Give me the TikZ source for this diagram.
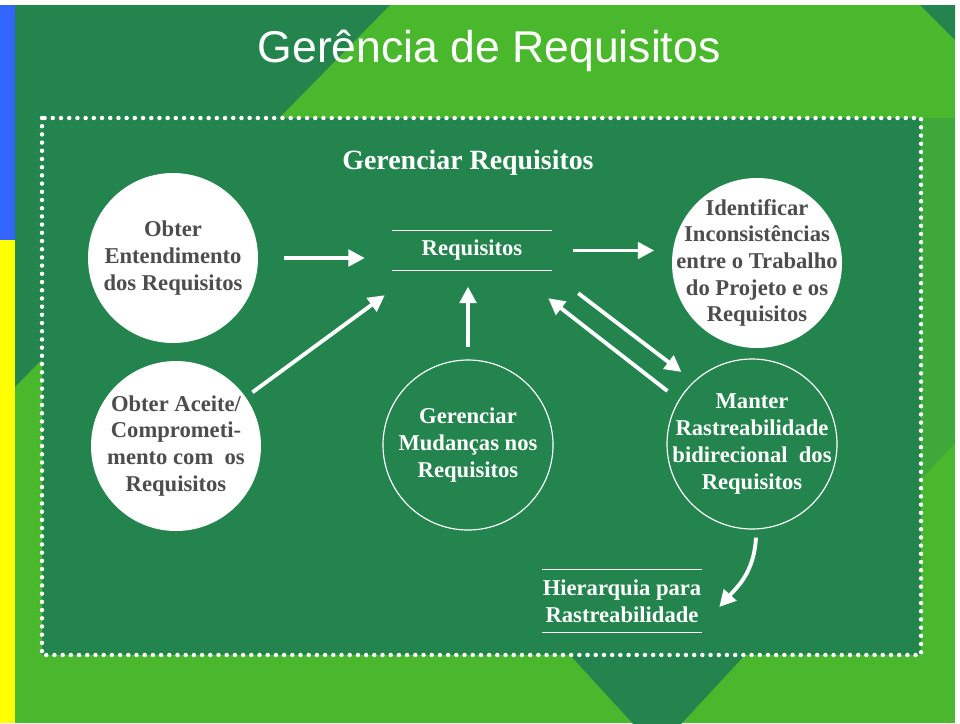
\documentclass[tikz,border=0pt]{standalone}
\usepackage{fontspec}
\setmainfont{Liberation Serif}
\setsansfont{Liberation Sans}
\usetikzlibrary{arrows.meta,positioning}

\definecolor{verdeesc}{HTML}{24844E}
\definecolor{verdecla}{HTML}{4AB82C}
\definecolor{verdemed}{HTML}{3FA83A}
\definecolor{azul}{HTML}{3366FF}
\definecolor{amarelo}{HTML}{FFFF00}
\definecolor{cinza}{HTML}{4D4D4D}

\tikzset{
  seta/.style={draw=white, line width=3.3pt, -{Triangle[length=14pt,width=14pt]}},
  bola/.style={circle, minimum size=5.1cm, inner sep=0pt},
  cheia/.style={bola, fill=white},
  vazia/.style={bola, draw=white, line width=1pt},
  texto/.style={align=center, inner sep=0pt, font=\bfseries\fontsize{19.3}{23}\selectfont},
  faixa/.style={minimum width=4.8cm, inner sep=0pt, text=white, texto},
  traco/.style={draw=white, line width=1.2pt},
  pontilhado/.style={draw=white, line width=3.8pt, line cap=round, dash pattern=on 0pt off 7pt},
}

\begin{document}
\begin{tikzpicture}[x=0.03cm, y=-0.03cm]
  \useasboundingbox (0,0) rectangle (960,723);
  \clip (0,0) rectangle (960,723);

  % fundo
  \fill[white] (0,0) rectangle (960,723);
  \fill[verdecla] (15,5) rectangle (955,723);
  \fill[verdeesc] (15,5) -- (390,5) -- (15,387) -- cycle;
  \fill[verdeesc] (920,5) -- (955,5) -- (955,40) -- cycle;
  \fill[verdemed] (922,118) -- (955,118) -- (955,443) -- (922,478) -- cycle;
  \fill[verdeesc] (570,655) -- (745,655) -- (657,750) -- cycle;
  \fill[azul] (0,5) rectangle (15,240);
  \fill[amarelo] (0,240) rectangle (15,723);

  \node[anchor=base, text=white, font=\sffamily\fontsize{38}{42}\selectfont] (titulo) at (489,62) {Gerência de Requisitos};

  % quadro
  \draw[pontilhado, fill=verdeesc] (42,118) rectangle (921,655);

  \node[anchor=base, text=white, font=\bfseries\fontsize{23.8}{28}\selectfont] (gerenciar) at (468,169) {Gerenciar Requisitos};

  % processos
  \node[cheia, label={[texto, text=cinza]center:{Obter\\Entendimento\\dos Requisitos}}] (entend) at (173,258) {};
  \node[cheia, label={[texto, text=cinza]center:{Obter Aceite/\\Comprometi-\\mento com\ \ os\\Requisitos}}] (aceite) at (176,446) {};
  \node[cheia, label={[texto, text=cinza, font=\bfseries\fontsize{19.3}{22.8}\selectfont]center:{Identificar\\Inconsistências\\entre o Trabalho\\do Projeto e os\\Requisitos}}] (ident) at (757,263) {};
  \node[vazia, label={[texto, text=white]center:{Gerenciar\\Mudanças nos\\Requisitos}}] (mudanca) at (468,445) {};
  \node[vazia, label={[texto, text=white]center:{Manter\\Rastreabilidade\\bidirecional\ \ dos\\Requisitos}}] (manter) at (752,444) {};

  \node[faixa, minimum height=1.17cm] (req) at (472,250.5) {Requisitos};
  \draw[traco] (req.north west) -- (req.north east) (req.south west) -- (req.south east);

  \node[faixa, minimum height=1.86cm] (hier) at (622,601) {Hierarquia para\\Rastreabilidade};
  \draw[traco] (hier.north west) -- (hier.north east) (hier.south west) -- (hier.south east);

  % setas
  \draw[seta, shorten <=22pt, shorten >=23pt] (entend.east) -- (entend.east -| req.west);
  \draw[seta, shorten <=18pt, shorten >=15pt] (req.east) -- (req.east -| ident.west);
  \draw[seta, shorten <=7pt] (aceite.35) -- ([shift={(-7,25)}]req.south west);
  \draw[seta, shorten <=11pt, shorten >=14pt] (mudanca.north) -- (mudanca.north |- req.south);
  \draw[seta] ([shift={(-19,2)}]manter.140) -- ([shift={(-4,28)}]req.south east);
  \draw[seta] ([shift={(26,23)}]req.south east) -- ([shift={(-5,-17)}]manter.140);
  \draw[seta] ([shift={(4,8)}]manter.south) .. controls +(-2,35) and +(18,-20) .. ([shift={(17,6)}]hier.east);

\end{tikzpicture}
\end{document}
